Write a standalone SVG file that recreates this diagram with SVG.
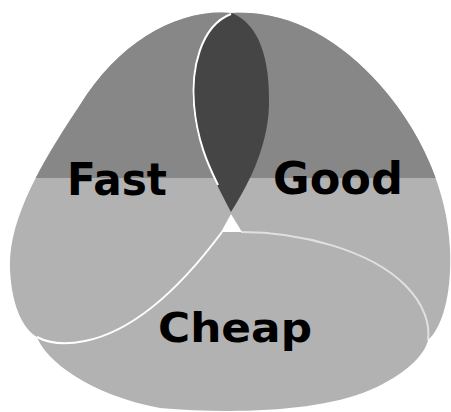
<svg xmlns="http://www.w3.org/2000/svg" width="451" height="412" viewBox="0 0 451 412">
  <defs>
    <style>
      .lbl { font-family: "DejaVu Sans", "Liberation Sans", sans-serif; font-weight: bold; fill: #000; }
      .edge { fill: none; stroke: #ffffff; stroke-width: 2; }
    </style>
    <clipPath id="topClip"><rect x="0" y="0" width="451" height="178"/></clipPath>
    <path id="silhouette" d="M 232 13 C 180 8, 120 40, 80 105 C 40 165, 8 220, 10 270 C 12 310, 25 330, 37 337 C 45 360, 90 395, 160 408 C 230 414, 320 412, 370 390 C 405 375, 425 355, 428 340 C 440 330, 452 300, 450 250 C 448 190, 420 130, 380 85 C 340 40, 290 10, 232 13 Z"/>
  </defs>
  <rect width="451" height="412" fill="#ffffff"/>
  <g id="cheap">
    <use href="#silhouette" fill="#b2b2b2"/>
  </g>
  <g id="fast-good-top">
    <use href="#silhouette" fill="#878787" clip-path="url(#topClip)"/>
  </g>
  <g id="leaf">
    <path d="M 232 13 C 200 25, 190 70, 193 105 C 196 150, 220 190, 231 212 C 245 190, 268 150, 269 105 C 270 60, 260 25, 232 13 Z" fill="#454545"/>
    <path class="edge" d="M 231 14 C 200 26, 191 70, 194 105 C 197 140, 208 165, 218 185" stroke-width="1.5"/>
  </g>
  <g id="connectors">
    <polygon points="231,214 221,232 242,232" fill="#ffffff"/>
    <path class="edge" d="M 222 232 C 190 275, 140 330, 85 341 C 65 345, 48 343, 37 337"/>
    <path class="edge" d="M 241 232 C 300 232, 370 250, 405 285 C 425 305, 430 325, 428 340" stroke-opacity="0.6"/>
  </g>
  <g id="label-fast"><text class="lbl" x="67" y="195" font-size="44" textLength="100" lengthAdjust="spacingAndGlyphs">Fast</text></g>
  <g id="label-good"><text class="lbl" x="273" y="194" font-size="44" textLength="130" lengthAdjust="spacingAndGlyphs">Good</text></g>
  <g id="label-cheap"><text class="lbl" x="158" y="342" font-size="41" textLength="154" lengthAdjust="spacingAndGlyphs">Cheap</text></g>
</svg>
